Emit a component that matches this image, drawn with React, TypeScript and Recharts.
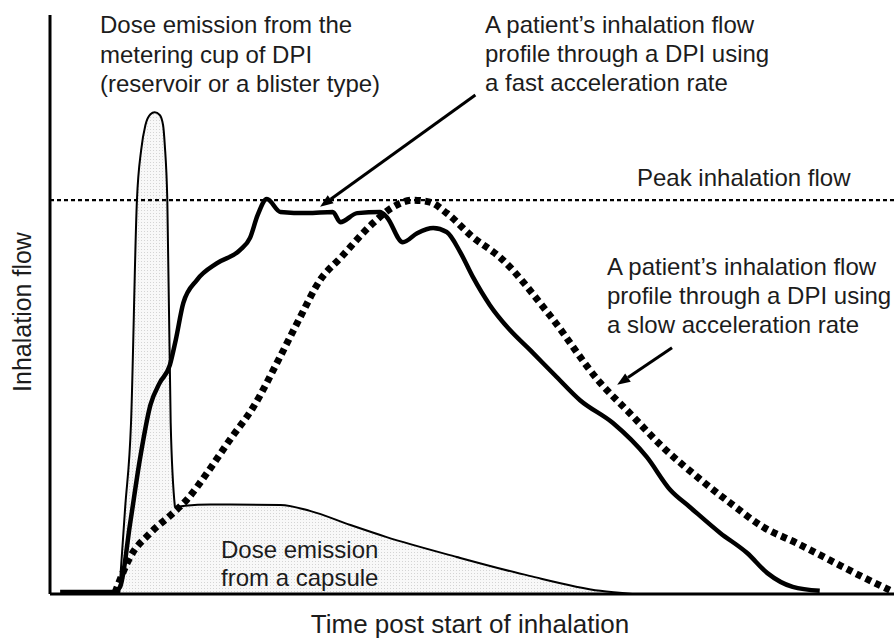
import React from 'react';
import { ComposedChart, Area, Line, XAxis, YAxis, ReferenceLine } from 'recharts';

// time (0-100) vs inhalation flow (peak = 100)
const fastProfile = [
  { t: 1.2, v: 0.5 }, { t: 7.5, v: 0.5 }, { t: 8.3, v: 1.8 }, { t: 9.5, v: 18 },
  { t: 10.7, v: 34.8 }, { t: 11.9, v: 48 }, { t: 13.0, v: 53.6 }, { t: 14.2, v: 58.1 },
  { t: 14.9, v: 64.5 }, { t: 15.8, v: 73.9 }, { t: 17.4, v: 79.7 }, { t: 19.8, v: 84 },
  { t: 22.5, v: 87.3 }, { t: 23.7, v: 90.4 }, { t: 24.6, v: 96.2 }, { t: 25.7, v: 100.3 },
  { t: 27.3, v: 97 }, { t: 30.5, v: 96.7 }, { t: 33.5, v: 97 }, { t: 34.4, v: 94.4 },
  { t: 36.4, v: 96.7 }, { t: 39.1, v: 97 }, { t: 39.9, v: 95.7 }, { t: 41.8, v: 89.3 },
  { t: 43.5, v: 91.6 }, { t: 45.4, v: 92.9 }, { t: 47.0, v: 91.9 }, { t: 48.6, v: 86.8 },
  { t: 50.1, v: 80.5 }, { t: 52.1, v: 73.4 }, { t: 54.5, v: 67 }, { t: 56.9, v: 61.9 },
  { t: 59.8, v: 55.6 }, { t: 62.8, v: 49.2 }, { t: 66.7, v: 43.4 }, { t: 70.7, v: 34.8 },
  { t: 73.5, v: 26.4 }, { t: 75.8, v: 22.1 }, { t: 79.4, v: 15.5 }, { t: 82.6, v: 10.4 },
  { t: 85.0, v: 5.3 }, { t: 88.0, v: 1.8 }, { t: 91.2, v: 0.8 },
];

const slowProfile = [
  { t: 7.7, v: 0.3 }, { t: 9.5, v: 9.4 }, { t: 11.9, v: 15.5 }, { t: 14.6, v: 20.6 },
  { t: 16.2, v: 23.9 }, { t: 18.6, v: 30.7 }, { t: 21.3, v: 39.1 }, { t: 24.1, v: 47.5 },
  { t: 27.3, v: 60.4 }, { t: 29.6, v: 70.1 }, { t: 32.0, v: 79.7 }, { t: 34.4, v: 85.3 },
  { t: 38.3, v: 94.2 }, { t: 40.6, v: 98.2 }, { t: 43.0, v: 100 }, { t: 45.0, v: 99.5 },
  { t: 47.0, v: 96.7 }, { t: 50.1, v: 90.6 }, { t: 53.3, v: 85.5 }, { t: 59.2, v: 70.8 },
  { t: 65.2, v: 53.6 }, { t: 68.7, v: 45.9 }, { t: 72.6, v: 37.3 }, { t: 76.7, v: 29.7 },
  { t: 80.6, v: 23.1 }, { t: 84.5, v: 17 }, { t: 88.5, v: 12.9 }, { t: 92.4, v: 8.6 },
  { t: 96.3, v: 4.3 }, { t: 99.5, v: 1 },
];

const dpiEmission = [
  { t: 8.2, v: 0 }, { t: 8.9, v: 21.8 }, { t: 9.6, v: 43.4 }, { t: 10.3, v: 100 },
  { t: 10.8, v: 112.7 }, { t: 11.3, v: 119 }, { t: 11.9, v: 121.8 }, { t: 12.4, v: 122.3 },
  { t: 13.0, v: 121.6 }, { t: 13.4, v: 119 }, { t: 13.6, v: 114 }, { t: 13.9, v: 100 },
  { t: 14.3, v: 43.4 }, { t: 14.8, v: 22.1 },
];

const capsuleEmission = [
  { t: 8.1, v: 0 }, { t: 8.6, v: 6.5 }, { t: 9.4, v: 12.2 }, { t: 10.4, v: 16.2 },
  { t: 11.8, v: 19.3 }, { t: 13.6, v: 21.3 }, { t: 16.0, v: 22.4 }, { t: 19.0, v: 22.7 },
  { t: 27.3, v: 22.6 }, { t: 30.8, v: 21.1 }, { t: 35.6, v: 17.5 }, { t: 39.8, v: 14.5 },
  { t: 48.2, v: 9.4 }, { t: 56.8, v: 4.6 }, { t: 65.2, v: 0.8 }, { t: 69.0, v: 0 },
];

const peakFlow = 100;

const fastArrow = [{ x: 50.4, y: 126.7 }, { x: 32.0, y: 98.3 }];
const slowArrow = [{ x: 73.7, y: 62.5 }, { x: 67.2, y: 53.1 }];

const dpiNote = ['Dose emission from the', 'metering cup of DPI', '(reservoir or a blister type)'];
const fastNote = ['A patient\u2019s inhalation flow', 'profile through a DPI using', 'a fast acceleration rate'];
const slowNote = ['A patient\u2019s inhalation flow', 'profile through a DPI using', 'a slow acceleration rate'];
const capsuleNote = ['Dose emission', 'from a capsule'];

const font = '"Liberation Sans", Arial, Helvetica, sans-serif';

const Arrow = (props: any) => {
  const { x1, y1, x2, y2 } = props;
  const a = Math.atan2(y2 - y1, x2 - x1);
  const len = 13;
  const w = 5;
  const bx = x2 - len * Math.cos(a);
  const by = y2 - len * Math.sin(a);
  const px = -Math.sin(a) * w;
  const py = Math.cos(a) * w;
  return (
    <g>
      <line x1={x1} y1={y1} x2={bx} y2={by} stroke="#000" strokeWidth={3} />
      <polygon points={`${x2},${y2} ${bx + px},${by + py} ${bx - px},${by - py}`} fill="#000" />
    </g>
  );
};

const Lines = ({ lines, x, y, gap }: { lines: string[]; x: number; y: number; gap: number }) => (
  <>
    {lines.map((l, i) => (
      <text key={i} x={x} y={y + i * gap}>{l}</text>
    ))}
  </>
);

export default function App() {
  return (
    <div style={{ position: 'absolute', left: 0, top: 0, width: 894, height: 638, background: '#fff' }}>
      <ComposedChart width={894} height={638} margin={{ top: 15, right: 0, bottom: 0, left: 0 }}>
        <defs>
          <pattern id="dots" width="3" height="3" patternUnits="userSpaceOnUse">
            <rect width="3" height="3" fill="#f8f8f8" />
            <rect width="1" height="1" fill="#d4d4d4" />
          </pattern>
        </defs>
        <XAxis
          type="number"
          dataKey="t"
          domain={[0, 100]}
          tick={false}
          tickLine={false}
          height={44}
          axisLine={{ stroke: '#000', strokeWidth: 3 }}
        />
        <YAxis
          type="number"
          domain={[0, 147]}
          tick={false}
          tickLine={false}
          width={50}
          axisLine={{ stroke: '#000', strokeWidth: 3 }}
        />
        <Area data={capsuleEmission} dataKey="v" type="monotone" stroke="#000" strokeWidth={2}
          fill="url(#dots)" fillOpacity={1} dot={false} activeDot={false} isAnimationActive={false} />
        <Area data={dpiEmission} dataKey="v" type="monotone" stroke="#000" strokeWidth={2}
          fill="url(#dots)" fillOpacity={1} dot={false} activeDot={false} isAnimationActive={false} />
        <ReferenceLine y={peakFlow} stroke="#000" strokeWidth={2.2} strokeDasharray="4 3" />
        <Line data={slowProfile} dataKey="v" type="monotone" stroke="#000" strokeWidth={7}
          strokeDasharray="6 4.5" dot={false} activeDot={false} isAnimationActive={false} />
        <Line data={fastProfile} dataKey="v" type="monotone" stroke="#000" strokeWidth={4.5}
          dot={false} activeDot={false} isAnimationActive={false} />
        <ReferenceLine segment={fastArrow} shape={Arrow} ifOverflow="visible" />
        <ReferenceLine segment={slowArrow} shape={Arrow} ifOverflow="visible" />
      </ComposedChart>
      <svg width={894} height={638} style={{ position: 'absolute', left: 0, top: 0, pointerEvents: 'none' }}
        fontFamily={font} fill="#1c1c1c">
        <g fontSize={24}>
          <Lines lines={dpiNote} x={100} y={33} gap={29.5} />
          <Lines lines={fastNote} x={485} y={33} gap={29} />
          <text x={637} y={186}>Peak inhalation flow</text>
          <Lines lines={slowNote} x={607} y={275} gap={29} />
          <Lines lines={capsuleNote} x={221} y={558} gap={28} />
        </g>
        <text x={470} y={633} fontSize={26} textAnchor="middle">Time post start of inhalation</text>
        <text x={0} y={0} fontSize={25} textAnchor="middle" transform="translate(31 312) rotate(-90)">
          Inhalation flow
        </text>
      </svg>
    </div>
  );
}
